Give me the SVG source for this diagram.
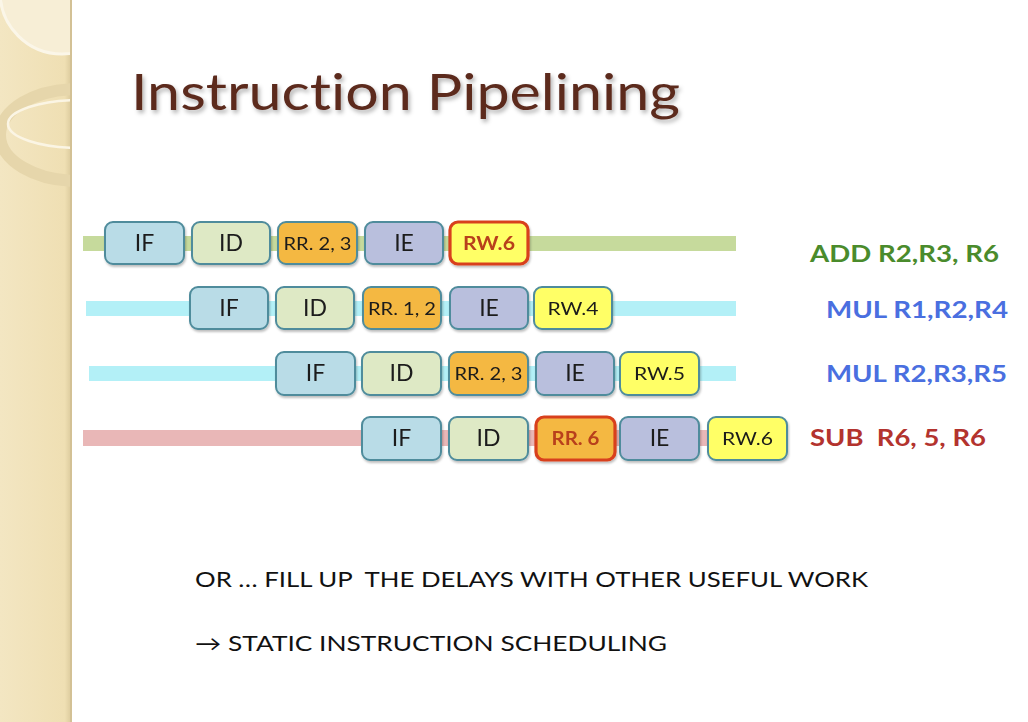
<svg xmlns="http://www.w3.org/2000/svg" width="1028" height="722" viewBox="0 0 1028 722">
<defs>
<linearGradient id="panel" x1="0" y1="0" x2="1" y2="0">
<stop offset="0" stop-color="#f3e6c2"/>
<stop offset="0.9" stop-color="#efdfb3"/>
<stop offset="1" stop-color="#d9c89a"/>
</linearGradient>
<filter id="sh" x="-10%" y="-10%" width="130%" height="140%">
<feDropShadow dx="1" dy="2" stdDeviation="1.2" flood-color="#000" flood-opacity="0.25"/>
</filter>
<filter id="tsh" x="-5%" y="-20%" width="110%" height="150%">
<feDropShadow dx="2" dy="3" stdDeviation="2" flood-color="#000" flood-opacity="0.3"/>
</filter>
<clipPath id="pc"><rect x="0" y="0" width="70" height="722"/></clipPath>
</defs>
<style>
text{font-variant-ligatures:none}
.box{stroke:#4f8c9c;stroke-width:2}
.hot{stroke:#d8401e;stroke-width:3.2}
.IF{fill:#b9dce7}.ID{fill:#dee9c5}.RR{fill:#f4b843}.IE{fill:#b9bfdd}.RW{fill:#ffff66}
.t{font-family:Lato,"Open Sans",sans-serif;fill:#1a1a1a;text-anchor:middle}
.big{font-size:23px}
.sm{font-size:18px}
.hotT{font-family:Lato,"Open Sans",sans-serif;font-weight:bold;fill:#b8401c;text-anchor:middle;font-size:18px}
.lab{font-family:Lato,"Open Sans",sans-serif;font-weight:bold;font-size:22px}
.body{font-family:Lato,"Open Sans",sans-serif;font-size:21px;fill:#111}
</style>
<rect x="0" y="0" width="1028" height="722" fill="#ffffff"/>
<g id="panel-bg">
<rect x="0" y="0" width="72" height="722" fill="url(#panel)"/>
<g clip-path="url(#pc)">
<circle cx="62" cy="-8" r="62" fill="#f7eed6" stroke="#fbf6e8" stroke-width="3"/>
<ellipse cx="78" cy="135" rx="78" ry="46" fill="none" stroke="#e6d6ab" stroke-width="12"/>
<ellipse cx="80" cy="124" rx="72" ry="24" fill="none" stroke="#fbf5e4" stroke-width="2.5"/>
</g>
<rect x="70" y="0" width="2" height="722" fill="#d3c195"/>
</g>
<text id="title" x="131" y="110" font-family="Lato,'Open Sans',sans-serif" font-size="51" fill="#5b2a1f" textLength="549" lengthAdjust="spacingAndGlyphs" filter="url(#tsh)">Instruction Pipelining</text>
<g id="connectors">
<rect x="83" y="236" width="653" height="15" fill="#c6da9c"/>
<rect x="86" y="301" width="650" height="15" fill="#b3f0f7"/>
<rect x="89" y="366" width="647" height="15" fill="#b3f0f7"/>
<rect x="83" y="430" width="632" height="16" fill="#e9b7b7"/>
</g>
<g id="row1" filter="url(#sh)">
<g id="r1-if"><rect class="box IF" x="105" y="222" width="79" height="42" rx="8"/><text class="t big" x="144.5" y="251">IF</text></g>
<g id="r1-id"><rect class="box ID" x="192" y="222" width="78" height="42" rx="8"/><text class="t big" x="231" y="251">ID</text></g>
<g id="r1-rr"><rect class="box RR" x="278" y="222" width="79" height="42" rx="8"/><text class="t sm" x="317.5" y="250" textLength="68" lengthAdjust="spacingAndGlyphs">RR. 2, 3</text></g>
<g id="r1-ie"><rect class="box IE" x="365" y="222" width="78" height="42" rx="8"/><text class="t big" x="404" y="251">IE</text></g>
<g id="r1-rw"><rect class="box RW hot" x="450" y="222" width="78" height="42" rx="8"/><text class="hotT" x="489" y="250" textLength="52" lengthAdjust="spacingAndGlyphs">RW.6</text></g>
</g>
<g id="row2" filter="url(#sh)">
<g id="r2-if"><rect class="box IF" x="190" y="287" width="78" height="42" rx="8"/><text class="t big" x="229" y="316">IF</text></g>
<g id="r2-id"><rect class="box ID" x="276" y="287" width="78" height="42" rx="8"/><text class="t big" x="315" y="316">ID</text></g>
<g id="r2-rr"><rect class="box RR" x="363" y="287" width="78" height="42" rx="8"/><text class="t sm" x="402" y="315" textLength="68" lengthAdjust="spacingAndGlyphs">RR. 1, 2</text></g>
<g id="r2-ie"><rect class="box IE" x="450" y="287" width="78" height="42" rx="8"/><text class="t big" x="489" y="316">IE</text></g>
<g id="r2-rw"><rect class="box RW" x="534" y="287" width="78" height="42" rx="8"/><text class="t sm" x="573" y="315" textLength="51" lengthAdjust="spacingAndGlyphs">RW.4</text></g>
</g>
<g id="row3" filter="url(#sh)">
<g id="r3-if"><rect class="box IF" x="276" y="352" width="79" height="43" rx="8"/><text class="t big" x="315.5" y="381">IF</text></g>
<g id="r3-id"><rect class="box ID" x="362" y="352" width="79" height="43" rx="8"/><text class="t big" x="401.5" y="381">ID</text></g>
<g id="r3-rr"><rect class="box RR" x="449" y="352" width="79" height="43" rx="8"/><text class="t sm" x="488.5" y="380" textLength="68" lengthAdjust="spacingAndGlyphs">RR. 2, 3</text></g>
<g id="r3-ie"><rect class="box IE" x="536" y="352" width="78" height="43" rx="8"/><text class="t big" x="575" y="381">IE</text></g>
<g id="r3-rw"><rect class="box RW" x="620" y="352" width="79" height="43" rx="8"/><text class="t sm" x="659.5" y="380" textLength="51" lengthAdjust="spacingAndGlyphs">RW.5</text></g>
</g>
<g id="row4" filter="url(#sh)">
<g id="r4-if"><rect class="box IF" x="362" y="417" width="79" height="43" rx="8"/><text class="t big" x="401.5" y="446">IF</text></g>
<g id="r4-id"><rect class="box ID" x="449" y="417" width="79" height="43" rx="8"/><text class="t big" x="488.5" y="446">ID</text></g>
<g id="r4-rr"><rect class="box RR hot" x="536" y="417" width="79" height="43" rx="8"/><text class="hotT" x="575.5" y="445" textLength="48" lengthAdjust="spacingAndGlyphs">RR. 6</text></g>
<g id="r4-ie"><rect class="box IE" x="620" y="417" width="79" height="43" rx="8"/><text class="t big" x="659.5" y="446">IE</text></g>
<g id="r4-rw"><rect class="box RW" x="708" y="417" width="79" height="43" rx="8"/><text class="t sm" x="747.5" y="445" textLength="51" lengthAdjust="spacingAndGlyphs">RW.6</text></g>
</g>
<g id="labels">
<text class="lab" x="810" y="262" fill="#4a8b2c" textLength="189" lengthAdjust="spacingAndGlyphs">ADD R2,R3, R6</text>
<text class="lab" x="826" y="318" fill="#4a6fe0" textLength="182" lengthAdjust="spacingAndGlyphs">MUL R1,R2,R4</text>
<text class="lab" x="826" y="382" fill="#4a6fe0" textLength="181" lengthAdjust="spacingAndGlyphs">MUL R2,R3,R5</text>
<text class="lab" x="810" y="446" fill="#b3332e" textLength="176" lengthAdjust="spacingAndGlyphs" xml:space="preserve">SUB  R6, 5, R6</text>
</g>
<g id="notes">
<text class="body" x="195" y="587" textLength="673" lengthAdjust="spacingAndGlyphs" xml:space="preserve">OR … FILL UP  THE DELAYS WITH OTHER USEFUL WORK</text>
<text class="body" x="195" y="651" textLength="472" lengthAdjust="spacingAndGlyphs">→ STATIC INSTRUCTION SCHEDULING</text>
</g>
</svg>
